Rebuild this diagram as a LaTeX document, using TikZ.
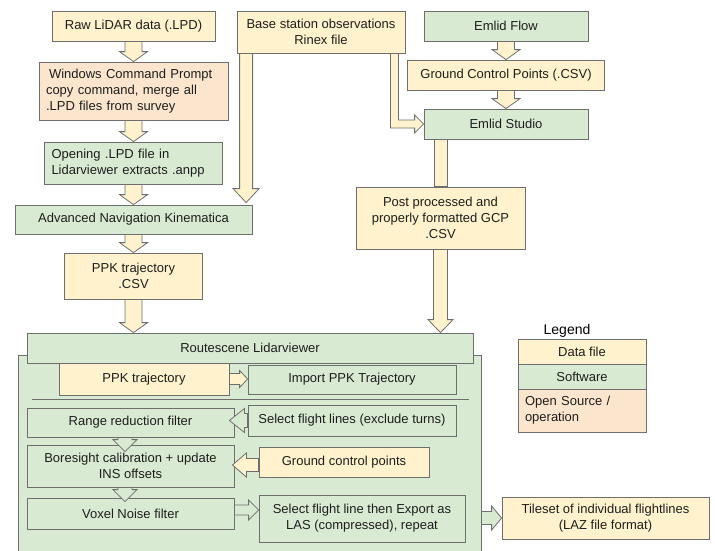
\documentclass[tikz,border=0pt]{standalone}
\usepackage{fontspec}
\setmainfont{Liberation Sans}
\usetikzlibrary{calc, positioning}

\definecolor{datafill}{HTML}{FFF2CC}
\definecolor{softfill}{HTML}{D9EAD3}
\definecolor{osfill}{HTML}{FCE5CD}
\definecolor{edgegray}{HTML}{6E6E6E}
\definecolor{ink}{HTML}{1E1E1E}

\tikzset{
  box/.style={draw=edgegray, line width=0.8pt, inner sep=0pt, text=ink,
    font=\fontsize{13}{16}\selectfont, align=center},
  data/.style={box, fill=datafill},
  soft/.style={box, fill=softfill},
  opsrc/.style={box, fill=osfill},
  % block arrow: shaft half width / head half width / head length
  fat/.style n args={3}{draw=edgegray, line width=0.8pt, to path={
    let \p1=(\tikztostart), \p2=(\tikztotarget),
        \n1={veclen(\x2-\x1,\y2-\y1)}, \n2={(\x2-\x1)/\n1}, \n3={(\y2-\y1)/\n1} in
    ({\x1-#1*\n3},{\y1+#1*\n2}) -- ({\x2-#3*\n2-#1*\n3},{\y2-#3*\n3+#1*\n2})
    -- ({\x2-#3*\n2-#2*\n3},{\y2-#3*\n3+#2*\n2}) -- (\p2)
    -- ({\x2-#3*\n2+#2*\n3},{\y2-#3*\n3-#2*\n2}) -- ({\x2-#3*\n2+#1*\n3},{\y2-#3*\n3-#1*\n2})
    -- ({\x1+#1*\n3},{\y1-#1*\n2}) -- cycle}},
  bigarr/.style={fat={8.5}{14}{10}, fill=datafill},
  smallarr/.style={fat={7}{12}{12}},
}

\begin{document}
\begin{tikzpicture}[x=1pt, y=-1pt]
  \useasboundingbox (0,0) rectangle (715,550);

  % left column
  \node[data, minimum width=163pt, minimum height=30pt] (raw) at (133.5,26) {Raw LiDAR data (.LPD)};
  \node[opsrc, text width=175pt, inner xsep=7pt, minimum height=58pt, align=left] (win) at (133.5,91)
    {\hspace{3pt}Windows Command Prompt\\copy command, merge all\\.LPD files from survey};
  \node[soft, text width=164pt, inner xsep=7pt, minimum height=42pt, align=left] (open) at (133.5,163)
    {Opening .LPD file in\\Lidarviewer extracts .anpp};
  \node[soft, minimum width=237pt, minimum height=29pt] (ank) at (133.5,219.5) {Advanced Navigation Kinematica};
  \node[data, minimum width=138pt, minimum height=46pt] (ppkcsv) at (133.5,276) {PPK trajectory\\.CSV};

  % base station and Emlid
  \node[data, minimum width=168pt, minimum height=42pt] (base) at (321,32) {Base station observations\\Rinex file};
  \node[soft, minimum width=164pt, minimum height=30pt] (flow) at (506,26) {Emlid Flow};
  \node[data, minimum width=197pt, minimum height=30pt] (gcpcsv) at (506,75) {Ground Control Points (.CSV)};
  \node[soft, minimum width=164pt, minimum height=30pt] (studio) at (506,124) {Emlid Studio};
  \node[data, minimum width=169pt, minimum height=62pt] (post) at (440.5,218)
    {Post processed and\\properly formatted GCP\\.CSV};

  % Lidarviewer block
  \node[soft, minimum width=463pt, minimum height=201pt] (lv) at (249.5,455.5) {};
  \node[soft, minimum width=446pt, minimum height=30pt] (route) at (250,348) {Routescene Lidarviewer};
  \node[data, minimum width=170pt, minimum height=32pt] (ppkin) at (144,379) {PPK trajectory};
  \node[soft, minimum width=208pt, minimum height=29pt] (import) at (352,379.5) {Import PPK Trajectory};
  \draw[edgegray, line width=0.8pt] (32,399) -- (469,399);
  \node[soft, minimum width=207pt, minimum height=29pt] (range) at (130.5,422.5) {Range reduction filter};
  \node[soft, minimum width=208pt, minimum height=31pt] (selfl) at (352,420.5) {Select flight lines (exclude turns)};
  \node[soft, minimum width=207pt, minimum height=42pt] (bore) at (130.5,466) {Boresight calibration + update\\INS offsets};
  \node[data, minimum width=170pt, minimum height=30pt] (gcp) at (344,462) {Ground control points};
  \node[soft, minimum width=207pt, minimum height=31pt] (voxel) at (130.5,513.5) {Voxel Noise filter};
  \node[soft, minimum width=206pt, minimum height=47pt] (export) at (362,518.5)
    {Select flight line then Export as\\LAS (compressed), repeat};
  \node[data, minimum width=207pt, minimum height=42pt] (tileset) at (605.5,518)
    {Tileset of individual flightlines\\(LAZ file format)};

  % legend
  \node[font=\fontsize{14}{16}\selectfont] (legend) at (567,331) {Legend};
  \node[data, minimum width=128pt, minimum height=25pt] (lgdata) at (582,351.5) {Data file};
  \node[soft, minimum width=128pt, minimum height=25pt] (lgsoft) at (582,376.5) {Software};
  \node[opsrc, text width=114pt, inner xsep=7pt, minimum height=43pt, align=left] (lgos) at (582,410.5)
    {Open Source /\\operation};

  % arrows, left column
  \draw[bigarr] (raw.south) to (win.north);
  \draw[bigarr] (win.south) to (open.north);
  \draw[bigarr] (open.south) to (ank.north);
  \draw[bigarr] (ank.south) to (ppkcsv.north);
  \draw[bigarr] (ppkcsv.south) to (ppkcsv.south |- route.north);

  % arrows, base station and Emlid
  \coordinate (b1) at ($(base.south west)+(9.5,0)$);
  \draw[fat={6.5}{13}{14}, fill=datafill] (b1) to ($(b1 |- ank.north)+(0,-2)$);
  \draw[draw=edgegray, line width=0.8pt, fill=datafill]
    let \p1=($(base.south east)+(-11,0)$), \p2=(studio.west) in
    (\x1-4,\y1) -- (\x1-4,\y2-4) -- (\x2-9,\y2-4) -- (\x2-9,\y2-9) -- (\p2)
    -- (\x2-9,\y2+9) -- (\x2-9,\y2+4) -- (\x1+4,\y2+4) -- (\x1+4,\y1) -- cycle;
  \draw[bigarr] (flow.south) to (gcpcsv.north);
  \draw[bigarr] (gcpcsv.south) to (studio.north);
  \draw[draw=edgegray, line width=0.8pt, fill=datafill]
    ($(post.north)+(-6.5,0)$) rectangle ($(studio.south -| post.north)+(6.5,0)$);
  \draw[fat={7}{12.5}{13}, fill=datafill] (post.south) to (post.south |- route.north);

  % arrows inside Lidarviewer
  \draw[fat={5.5}{8.5}{8}, fill=datafill] (ppkin.east) to (ppkin.east -| import.west);
  \draw[fat={7}{12}{15}, fill=softfill] (selfl.west) to ($(selfl.west -| range.east)+(-5,0)$);
  \coordinate (g1) at ($(gcp.west)+(0,3)$);
  \draw[fat={6.5}{12}{14}, fill=datafill] (g1) to ($(g1 -| bore.east)+(-2,0)$);
  \draw[smallarr, fill=softfill] ($(range.south)+(-5.5,0)$) to ($(bore.north)+(-5.5,7)$);
  \draw[smallarr, fill=softfill] ($(bore.south)+(-5.5,0)$) to ($(voxel.north)+(-5.5,4)$);
  \coordinate (v1) at ($(voxel.east)+(0,-3.5)$);
  \draw[fat={5}{10}{10}, fill=softfill] (v1) to (v1 -| export.west);
  \draw[fat={6.5}{12}{10}, fill=softfill] (lv.east |- tileset.west) to (tileset.west);
\end{tikzpicture}
\end{document}
